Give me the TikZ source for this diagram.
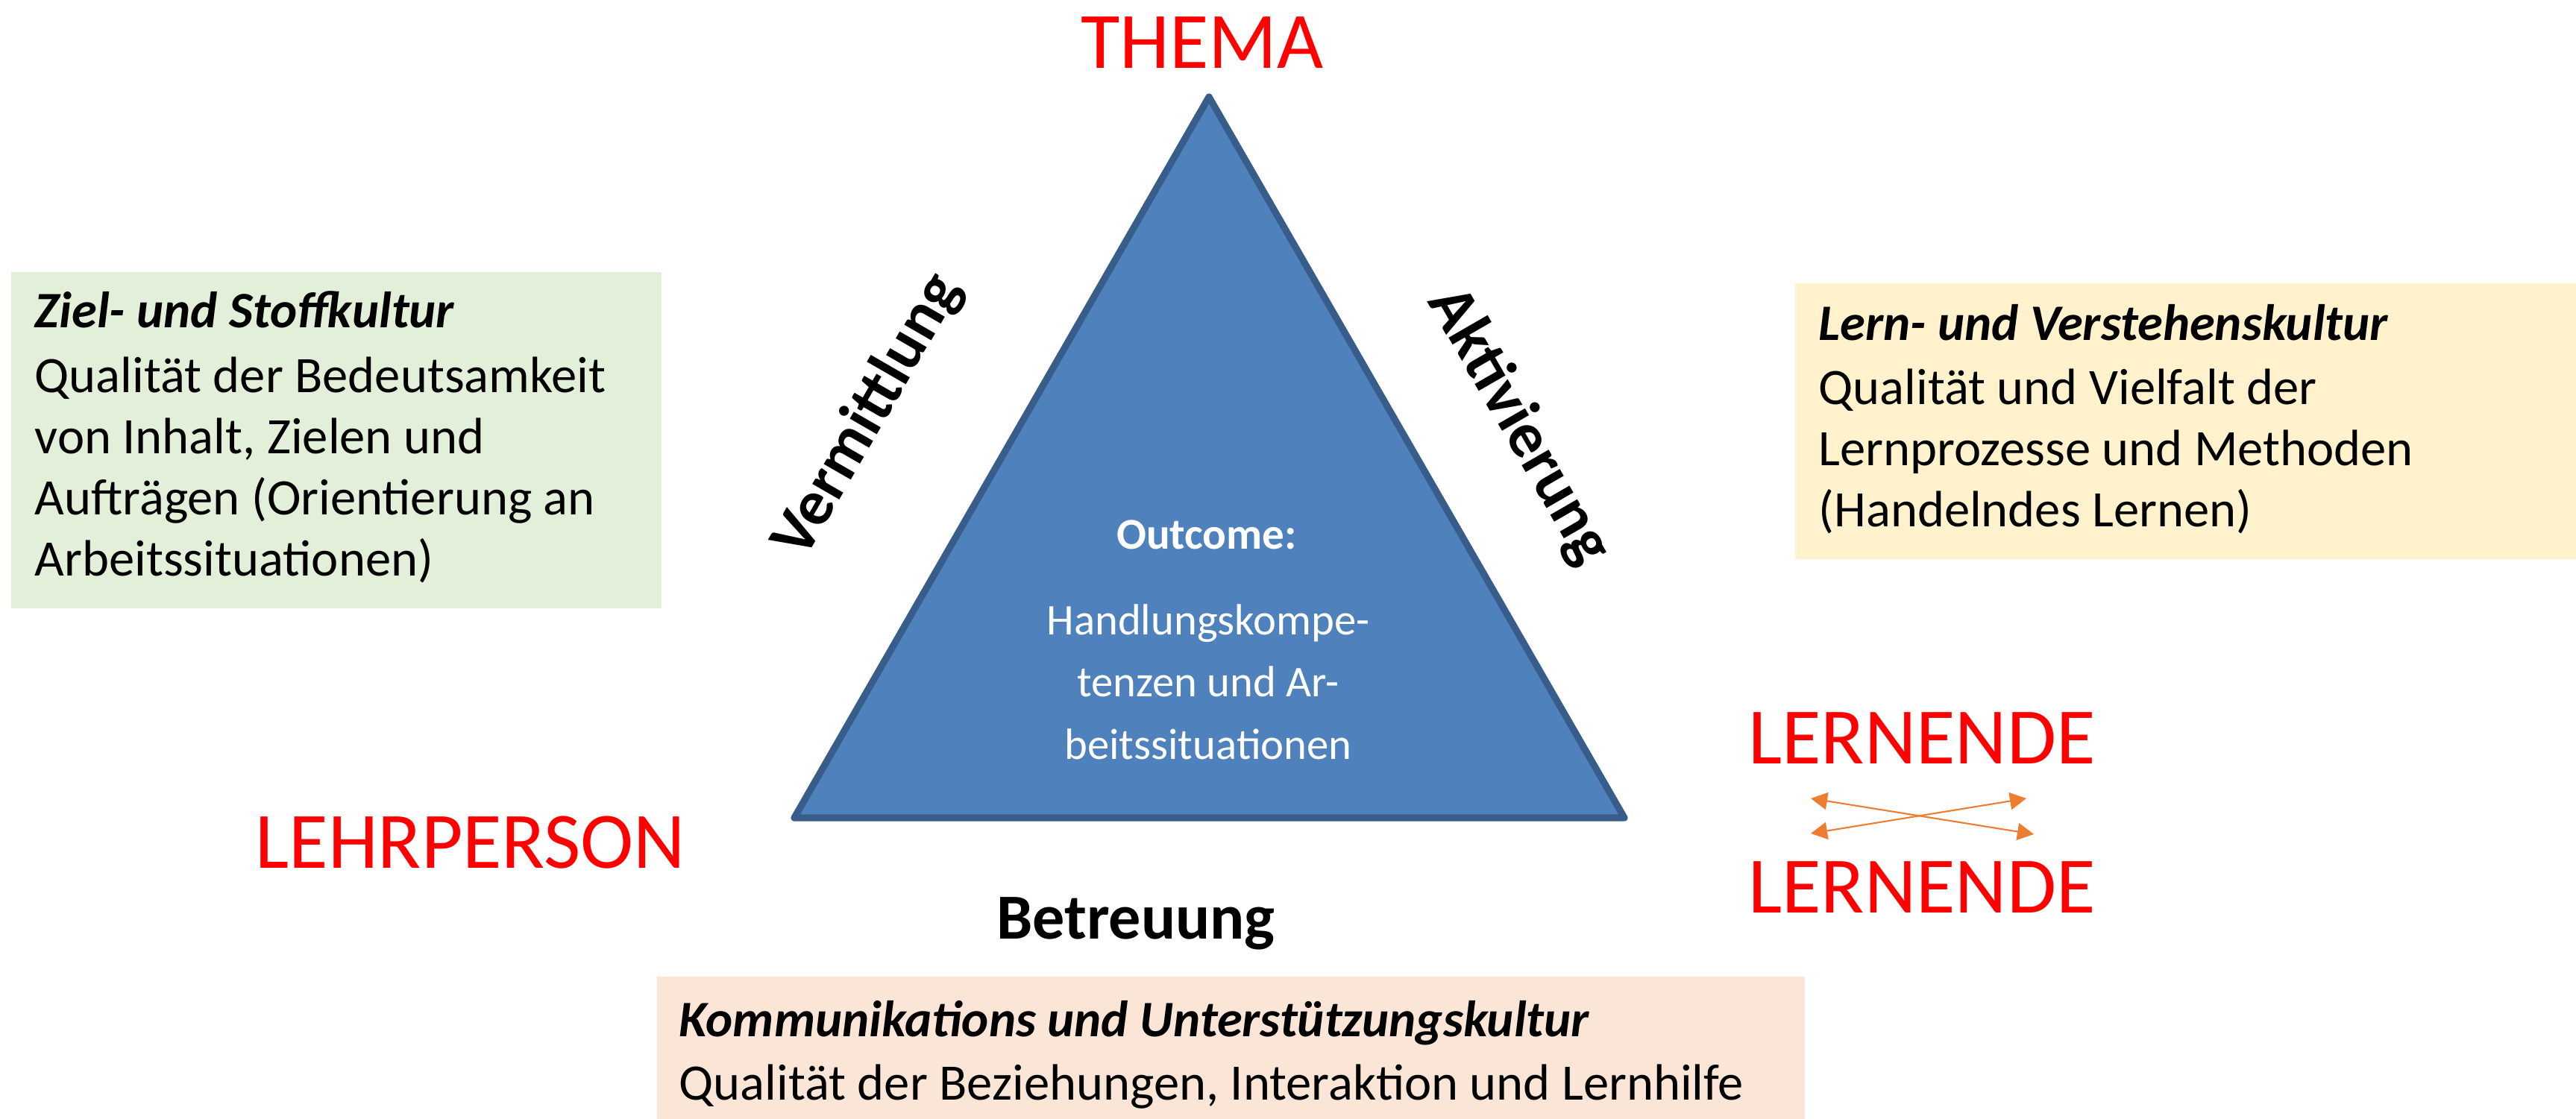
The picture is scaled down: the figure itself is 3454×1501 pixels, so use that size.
\documentclass[tikz,border=0pt]{standalone}
\usepackage{fontspec}
\setmainfont{Carlito}
\usetikzlibrary{arrows.meta}
\definecolor{dreieckblau}{RGB}{79,129,189}
\definecolor{dreieckrand}{RGB}{56,93,138}
\definecolor{zielgruen}{RGB}{226,239,217}
\definecolor{lerngelb}{RGB}{255,242,204}
\definecolor{kommpfirsich}{RGB}{251,229,214}
\definecolor{pfeilorange}{RGB}{237,125,49}

\begin{document}
\begin{tikzpicture}[x=0.01cm,y=-0.01cm,
    every node/.style={inner sep=0pt},
    rot/.style={text=red,anchor=base,font=\fontsize{30.5}{36}\selectfont},
    seite/.style={font=\fontsize{24.5}{29}\selectfont\bfseries},
    outc/.style={text=white,anchor=base,font=\fontsize{16.7}{20}\selectfont},
    feld/.style={anchor=north west},
    ftext/.style={anchor=base west,font=\fontsize{19.5}{23.5}\selectfont},
    ftitel/.style={ftext,font=\fontsize{19.5}{23.5}\selectfont\bfseries\itshape},
    pfeil/.style={{Triangle[length=2.2mm,width=2.3mm]}-{Triangle[length=2.2mm,width=2.3mm]},
      draw=pfeilorange,line width=0.6pt}]
    \useasboundingbox (0,0) rectangle (3454,1501);

    % Dreieck
    \coordinate (links) at (1065,1097);
    \coordinate (spitze) at (1621,130);
    \coordinate (rechts) at (2178,1097);
    \filldraw[fill=dreieckblau,draw=dreieckrand,line width=2.6pt,line join=round]
      (links)--(spitze)--(rechts)--cycle;

    \node[outc,font=\fontsize{16.8}{20}\selectfont\bfseries] (outcome) at (1618,737) {Outcome:};
    \foreach \t [count=\k] in {Handlungskompe-,tenzen und Ar-,beitssituationen}
      \node[outc] (out\k) at (1620,769+83*\k) {\t};

    % Ecken
    \node[rot] (thema) at (1612,92) {THEMA};
    \node[rot] (lehrperson) at (631,1165) {LEHRPERSON};
    \node[rot] (lernende1) at (2577,1025) {LERNENDE};
    \node[rot] (lernende2) at (2577,1225) {LERNENDE};

    % Seiten
    \node[seite,rotate=60] (vermittlung) at (1164,558) {Vermittlung};
    \node[seite,rotate=-60] (aktivierung) at (2037,572) {Aktivierung};
    \node[seite,anchor=base] (betreuung) at (1523,1259) {Betreuung};

    % Lernende <-> Lernende
    \coordinate (a1) at (2428,1071);
    \coordinate (a2) at (2727,1119);
    \coordinate (b1) at (2428,1118);
    \coordinate (b2) at (2717,1071);
    \draw[pfeil] (a1) -- (a2);
    \draw[pfeil] (b1) -- (b2);

    % Kulturen
    \node[feld,fill=zielgruen,minimum width=8.72cm,minimum height=4.51cm] (zielbox) at (14,364) {};
    \node[ftitel] (zieltitel) at (46,440) {Ziel- und Stoffkultur};
    \foreach \t [count=\k] in {Qualität der Bedeutsamkeit,{von Inhalt, Zielen und},
        Aufträgen (Orientierung an,Arbeitssituationen)}
      \node[ftext] (ziel\k) at (46,445+82*\k) {\t};

    \node[feld,fill=lerngelb,minimum width=10.48cm,minimum height=3.70cm] (lernbox) at (2406,379) {};
    \node[ftitel] (lerntitel) at (2438,457) {Lern- und Verstehenskultur};
    \foreach \t [count=\k] in {Qualität und Vielfalt der,Lernprozesse und Methoden,(Handelndes Lernen)}
      \node[ftext] (lern\k) at (2438,461+82*\k) {\t};

    \node[feld,fill=kommpfirsich,minimum width=15.38cm,minimum height=1.92cm] (kommbox) at (880,1309) {};
    \node[ftitel] (kommtitel) at (910,1390) {Kommunikations und Unterstützungskultur};
    \node[ftext] (komm1) at (910,1475) {Qualität der Beziehungen, Interaktion und Lernhilfe};
\end{tikzpicture}
\end{document}
